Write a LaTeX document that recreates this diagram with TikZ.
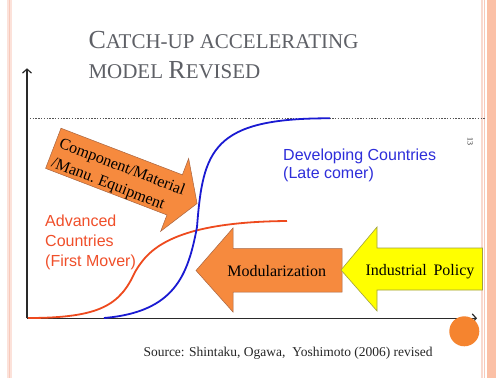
\documentclass[tikz,border=0pt]{standalone}
\usepackage{fontspec}
\setmainfont{Liberation Serif}
\newfontfamily\labelsans{Liberation Sans}
\usetikzlibrary{arrows.meta}

\definecolor{titlegray}{HTML}{5E6066}
\definecolor{arroworange}{HTML}{F68A3E}
\definecolor{orangeedge}{HTML}{A86440}
\definecolor{policyyellow}{HTML}{FFFF00}
\definecolor{yellowedge}{HTML}{A0A040}
\definecolor{latecomer}{HTML}{1A1AD2}
\definecolor{firstmover}{HTML}{EE4A1E}
\definecolor{moverlabel}{HTML}{F04F2A}
\definecolor{comerlabel}{HTML}{2E2EDA}
\definecolor{dotorange}{HTML}{F5842F}
\definecolor{edgepale}{HTML}{FCE2DA}
\definecolor{edgepink}{HTML}{F7C9BB}
\definecolor{edgesalmon}{HTML}{FBC0A6}
\definecolor{axisgray}{HTML}{2A2A2A}

\tikzset{
  axisline/.style={line width=1.4pt, draw=axisgray, -{Straight Barb[length=4pt,width=9pt,line width=1.2pt]}},
  ceiling/.style={line width=1.3pt, draw=axisgray!80, dash pattern=on 1.3pt off 1.5pt},
  curve/.style={line width=1.8pt},
  orangearrow/.style={fill=arroworange, draw=orangeedge, line width=0.5pt, line join=miter},
  yellowarrow/.style={fill=policyyellow, draw=yellowedge, line width=0.6pt, line join=miter},
  arrowtext/.style={inner sep=0pt, text=black, font=\rmfamily\fontsize{16}{21}\selectfont},
  sanslabel/.style={inner sep=0pt, align=left, font=\labelsans\fontsize{16}{20}\selectfont},
}

\newcommand{\bigC}[1]{{\fontsize{26}{30}\selectfont #1}}
\newcommand{\smallC}[1]{{\fontsize{21}{30}\selectfont #1}}

\begin{document}
\begin{tikzpicture}[x=1pt, y=-1pt]
\useasboundingbox (0,0) rectangle (496,378);
\fill[white] (0,0) rectangle (496,378);

% slide edges
\fill[edgepale] (7,0) rectangle (12,378);
\draw[edgepink, line width=1.6pt] (9.5,0) -- (9.5,378);
\fill[edgepink!70] (480.7,0) rectangle (482.7,378);
\fill[edgepink] (483.7,0) rectangle (485.3,378);
\fill[edgesalmon] (486.5,0) rectangle (496,378);

% title
\node[anchor=base west, inner sep=0pt, text=titlegray] (title1) at (88.3,48.3)
  {\bigC{C}\smallC{ATCH-UP ACCELERATING}};
\node[anchor=base west, inner sep=0pt, text=titlegray] (title2) at (88.3,78.3)
  {\smallC{MODEL }\bigC{R}\smallC{EVISED}};

% page number
\node[rotate=-90, inner sep=0pt, text=axisgray, font=\fontsize{8}{9}\selectfont] (page) at (470.3,141.7) {13};

% axes and saturation level
\coordinate (origin) at (27,318.3);
\coordinate (ytip) at (27,68.3);
\coordinate (xtip) at (477,318.3);
\coordinate (ceilL) at (27,118.3);
\coordinate (ceilR) at (485,118.3);
\draw[ceiling] (ceilL) -- (ceilR);
\draw[axisline] (origin) -- (ytip);
\draw[axisline] (origin) -- (xtip);

% marker dot
\fill[dotorange] (464.3,331.3) circle (15);

% component / material arrow
\begin{scope}[shift={(53.3,148.3)}, rotate=-21]
  \draw[orangearrow] (0,-21.5) -- (130,-21.5) -- (130,-39) -- (154,0) -- (130,39)
    -- (130,21.5) -- (0,21.5) -- cycle;
  \node[arrowtext, transform shape, anchor=base] (component1) at (71,-2.5) {Component/Material};
  \node[arrowtext, transform shape, anchor=base] (component2) at (64,18) {/Manu.\ Equipment};
\end{scope}

% modularization arrow
\draw[orangearrow] (196,270.5) -- (233,228) -- (233,248.5) -- (342,248.5) -- (342,292)
  -- (233,292) -- (233,312) -- cycle;
\node[arrowtext, anchor=base] (modular) at (276.7,276) {Modularization};

% industrial policy arrow
\draw[yellowarrow] (341,270) -- (377,227) -- (377,248) -- (482.5,248) -- (482.5,290)
  -- (377,290) -- (377,311) -- cycle;
\node[arrowtext, anchor=base] (policy) at (420,275.5) {Industrial\ \,Policy};

% diffusion curves
\draw[curve, firstmover] (28,318) .. controls (100,318) and (120,305) .. (135,272)
  .. controls (147,252) and (168,222) .. (287,221);
\draw[curve, latecomer] (104,318) .. controls (175,312) and (188,275) .. (197,227)
  .. controls (203,150) and (212,118) .. (330,118.3);

% curve labels (anchored on the baseline of the last line)
\node[sanslabel, anchor=base west, text=moverlabel] (advanced) at (45,266.7)
  {Advanced\\Countries\\(First Mover)};
\node[sanslabel, anchor=base west, text=comerlabel, font=\labelsans\fontsize{16}{18.5}\selectfont] (developing) at (283,178.5)
  {Developing Countries\\(Late comer)};

% source
\node[anchor=base west, inner sep=0pt, text=black!85, font=\fontsize{13.5}{16}\selectfont] (source) at (143.3,356.5)
  {Source: Shintaku, Ogawa,\ \ Yoshimoto (2006) revised};
\end{tikzpicture}
\end{document}
